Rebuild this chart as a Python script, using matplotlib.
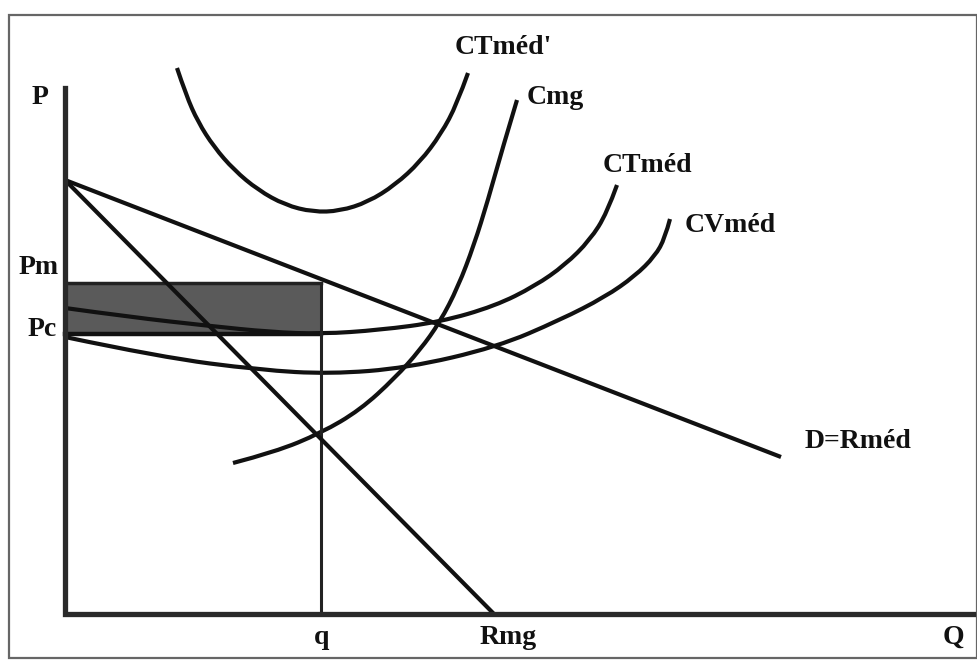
import matplotlib
matplotlib.use("Agg")
import matplotlib.pyplot as plt
from matplotlib.path import Path
from matplotlib.patches import PathPatch, Rectangle

# points (pixel coords, y down)
ctmed2_x = [177, 186, 198, 214, 234, 258, 285, 313, 340, 368, 395, 420, 441, 457, 468]
ctmed2_y = [68, 95, 122, 147, 170, 190, 205, 212, 211, 202, 185, 162, 134, 104, 73]

cmg_x = [233, 275, 321, 360, 395, 420, 440, 458, 474, 488, 502, 517]
cmg_y = [463, 452, 433, 410, 378, 350, 322, 287, 245, 200, 150, 100]

ctmed_x = [65, 130, 210, 270, 321, 380, 440, 495, 535, 565, 590, 607, 617]
ctmed_y = [308, 317, 326, 332, 334, 330, 322, 306, 286, 265, 240, 213, 185]

cvmed_x = [65, 160, 260, 330, 407, 497, 560, 605, 635, 655, 665, 670]
cvmed_y = [337, 357, 370, 374, 368, 347, 320, 297, 276, 256, 238, 219]

dem_x = [65, 781]
dem_y = [180, 457]
rmg_x = [65, 494]
rmg_y = [180, 614]

q_x = 321
pm_y = 283
pc_y = 334
axis_x0, axis_y0 = 65, 614
axis_top, axis_right = 88, 973


def smooth_path(xs, ys):
    pts = list(zip(xs, ys))
    verts = [pts[0]]
    codes = [Path.MOVETO]
    for i in range(1, len(pts) - 1):
        if i < len(pts) - 2:
            end = ((pts[i][0] + pts[i + 1][0]) / 2, (pts[i][1] + pts[i + 1][1]) / 2)
        else:
            end = pts[i + 1]
        verts += [pts[i], end]
        codes += [Path.CURVE3, Path.CURVE3]
    return Path(verts, codes)


fig = plt.figure(figsize=(9.78, 6.69), dpi=100)
ax = fig.add_axes([0, 0, 1, 1])
ax.set_xlim(0, 978)
ax.set_ylim(669, 0)
ax.axis('off')

# outer frame
ax.add_patch(Rectangle((9, 15), 968, 643, fill=False, edgecolor='#666666', lw=1.6))

# shaded profit rectangle
ax.add_patch(Rectangle((axis_x0, pm_y), q_x - axis_x0, pc_y - pm_y,
                       facecolor='#5a5a5a', edgecolor='none'))
ax.plot([axis_x0, q_x], [pm_y, pm_y], color='#222222', lw=2.5)
ax.plot([axis_x0, q_x], [pc_y, pc_y], color='#111111', lw=3.2)
ax.plot([q_x, q_x], [pm_y, axis_y0], color='#222222', lw=2.2)

# curves
for xs, ys in [(ctmed2_x, ctmed2_y), (cmg_x, cmg_y), (ctmed_x, ctmed_y), (cvmed_x, cvmed_y)]:
    ax.add_patch(PathPatch(smooth_path(xs, ys), fill=False, edgecolor='#111111',
                           lw=3.0, capstyle='butt', joinstyle='round'))
ax.plot(dem_x, dem_y, color='#111111', lw=3.0, solid_capstyle='butt')
ax.plot(rmg_x, rmg_y, color='#111111', lw=3.0, solid_capstyle='butt')

# axes
ax.plot([axis_x0, axis_x0, axis_right], [axis_top, axis_y0, axis_y0],
        color='#2a2a2a', lw=3.8, solid_joinstyle='miter')

fnt = dict(family='Liberation Serif', fontweight='bold', fontsize=20, color='#111111')
ax.text(40, 97, 'P', ha='center', va='center', **fnt)
ax.text(59, 268, 'Pm', ha='right', va='center', **fnt)
ax.text(57, 330, 'Pc', ha='right', va='center', **fnt)
ax.text(322, 637, 'q', ha='center', va='center', **fnt)
ax.text(508, 637, 'Rmg', ha='center', va='center', **fnt)
ax.text(953, 637, 'Q', ha='center', va='center', **fnt)
ax.text(805, 441, 'D=Rméd', ha='left', va='center', **fnt)
ax.text(685, 225, 'CVméd', ha='left', va='center', **fnt)
ax.text(603, 165, 'CTméd', ha='left', va='center', **fnt)
ax.text(527, 97, 'Cmg', ha='left', va='center', **fnt)
ax.text(455, 47, "CTméd'", ha='left', va='center', **fnt)

fig.savefig('out.png', dpi=100)
